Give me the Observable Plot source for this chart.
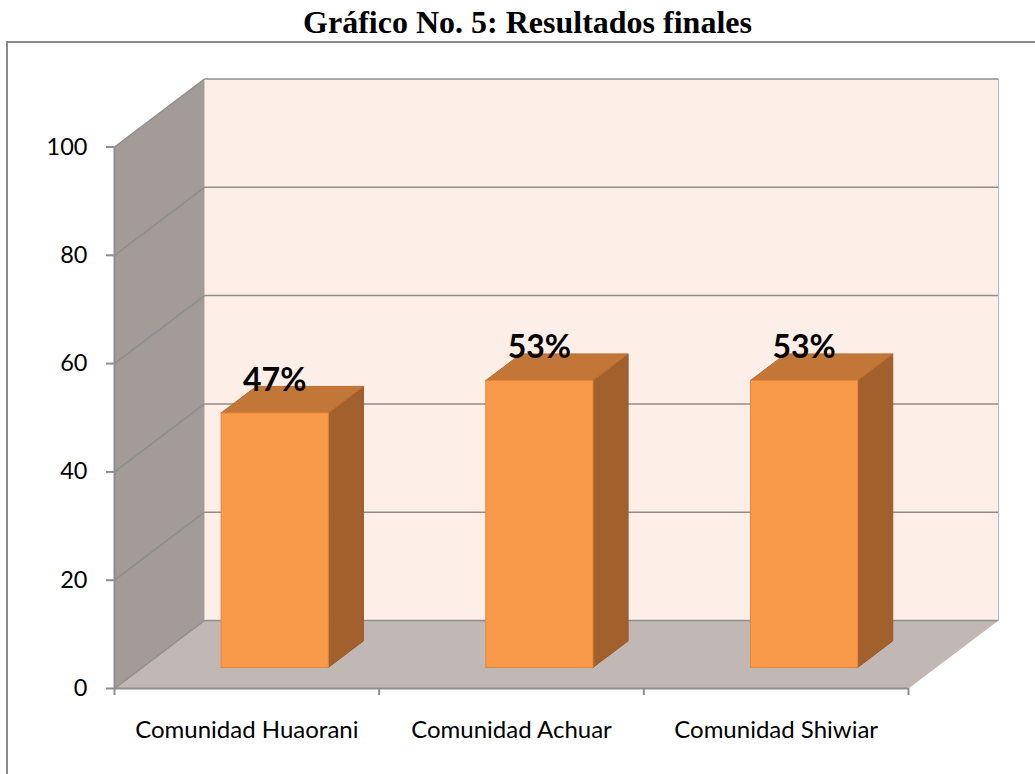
<!DOCTYPE html>
<html><head><meta charset="utf-8">
<script src="https://cdn.jsdelivr.net/npm/d3@7"></script>
<script src="https://cdn.jsdelivr.net/npm/@observablehq/plot@0.6"></script>
<style>
html,body{margin:0;padding:0;background:#fff;overflow:hidden;width:1035px;height:774px}
#frame{position:absolute;left:6px;top:41px;width:2000px;height:2000px;border:2px solid #8a8a8a;box-sizing:border-box}
#title{position:relative;height:42px;box-sizing:border-box;padding-top:6px;padding-left:20px;text-align:center;white-space:nowrap;font:bold 32px/32px "Liberation Serif","Times New Roman",serif;color:#000}
#chart{position:relative}
svg{display:block}
</style></head><body>
<div id="frame"></div>
<div id="title">Gráfico No. 5: Resultados finales</div>
<div id="chart"></div>
<script>
const categories = ["Comunidad Huaorani", "Comunidad Achuar", "Comunidad Shiwiar"];
const values = [47, 53, 53];
const valueLabels = ["47%", "53%", "53%"];
const yTicks = [0, 20, 40, 60, 80, 100];
const xTicks = [0, 1, 2, 3];

// projection of depth (0 = front plane, 1 = back wall) into data units
const pxPerX = (908 - 114) / 3;
const pxPerY = 541.5 / 100;
const dX = 90 / pxPerX, dY = 68 / pxPerY;
const P = (x, y, d) => ({x: x + d * dX, y: y + d * dY});
const f0 = 0.31, f1 = 0.70, hw = 0.2025;

function poly(id, pts) { return [...pts, pts[0]].map(p => ({id, ...p})); }

const backWall = poly("back", [P(0,0,1), P(3,0,1), P(3,100,1), P(0,100,1)]);
const leftWall = poly("left", [P(0,0,0), P(0,0,1), P(0,100,1), P(0,100,0)]);
const floor = poly("floor", [P(0,0,0), P(3,0,0), P(3,0,1), P(0,0,1)]);

const fronts = [], tops = [], sides = [];
values.forEach((v, i) => {
  const cx = i + 0.5, a = cx - hw, b = cx + hw;
  fronts.push(...poly("f" + i, [P(a,0,f0), P(b,0,f0), P(b,v,f0), P(a,v,f0)]));
  tops.push(...poly("t" + i, [P(a,v,f0), P(b,v,f0), P(b,v,f1), P(a,v,f1)]));
  sides.push(...poly("s" + i, [P(b,0,f0), P(b,0,f1), P(b,v,f1), P(b,v,f0)]));
});

const font = "Lato, 'Open Sans', sans-serif";
const grid = "#8e8e8e";

const chart = Plot.plot({
  width: 1035,
  height: 732,
  marginLeft: 114,
  marginRight: 127,
  marginTop: 104.5,
  marginBottom: 86,
  x: {domain: [0, 3], axis: null},
  y: {domain: [0, 100], axis: null},
  marks: [
    Plot.line(backWall, {x: "x", y: "y", z: "id", fill: "#fdeee7", stroke: "none"}),
    Plot.line(leftWall, {x: "x", y: "y", z: "id", fill: "#a39b97", stroke: "none"}),
    Plot.line(floor, {x: "x", y: "y", z: "id", fill: "#c1b7b4", stroke: "none"}),
    // gridlines on back wall and left wall
    Plot.link(yTicks, {x1: dX, y1: d => d + dY, x2: 3 + dX, y2: d => d + dY, stroke: grid, strokeWidth: 1.5}),
    Plot.link(yTicks, {x1: 0, y1: d => d, x2: dX, y2: d => d + dY, stroke: grid, strokeWidth: 1.5}),
    Plot.link([0], {x1: 3 + dX, y1: dY, x2: 3 + dX, y2: 100 + dY, stroke: "#b5b5b5", strokeWidth: 1}),
    // axes
    Plot.ruleX([0], {y1: 0, y2: 100, stroke: grid, strokeWidth: 2}),
    Plot.ruleY([0], {x1: 0, x2: 3, stroke: grid, strokeWidth: 2}),
    Plot.ruleY(yTicks, {x1: -8 / pxPerX, x2: 0, stroke: grid, strokeWidth: 2}),
    Plot.ruleX(xTicks, {y1: 0, y2: -7 / pxPerY, stroke: grid, strokeWidth: 2}),
    Plot.text(yTicks, {x: 0, y: d => d, dx: -27, text: d => String(d), textAnchor: "end", lineAnchor: "middle", fontSize: 23.5, fontFamily: font, fill: "#000"}),
    Plot.text(categories, {x: (d, i) => i + 0.5, y: 0, dy: 49, text: d => d, textAnchor: "middle", lineAnchor: "bottom", fontSize: 24, fontFamily: font, fill: "#000"}),
    // bars
    Plot.line(sides, {x: "x", y: "y", z: "id", fill: "#a1602c", stroke: "#9a5a28", strokeWidth: 1}),
    Plot.line(tops, {x: "x", y: "y", z: "id", fill: "#c27638", stroke: "#b86e33", strokeWidth: 1}),
    Plot.line(fronts, {x: "x", y: "y", z: "id", fill: "#f89a4a", stroke: "#e3863a", strokeWidth: 1}),
    Plot.text(values, {x: (d, i) => P(i + 0.5, d, f0).x, y: (d, i) => P(i + 0.5, d, f0).y, dy: -22, text: (d, i) => valueLabels[i], textAnchor: "middle", lineAnchor: "bottom", fontSize: 32, fontWeight: "bold", fontFamily: font, fill: "#000"})
  ]
});
document.getElementById("chart").appendChild(chart);
</script>
</body></html>
